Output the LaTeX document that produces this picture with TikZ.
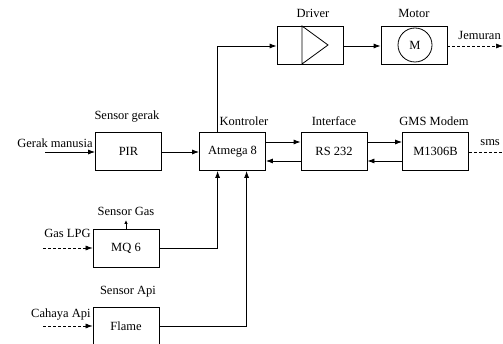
\documentclass[tikz,border=0pt]{standalone}
\usepackage{fontspec}
\setmainfont{Liberation Serif}
\usetikzlibrary{calc,arrows.meta}
\begin{document}
\begin{tikzpicture}[x=1pt,y=-1pt,
  font=\fontsize{12.5}{15}\selectfont,
  line width=0.8pt,
  box/.style={draw, minimum width=66pt, minimum height=38pt, inner sep=0pt},
  lbl/.style={inner sep=0pt},
  arr/.style={-{Latex[length=7pt,width=5pt]}},
  dsh/.style={densely dashed, line width=0.6pt}]
\useasboundingbox (0,0) rectangle (503,344);
% boxes
\node[box] (pir) at (128.5,151) {PIR};
\node[box] (atm) at (232.5,151.5) {Atmega 8};
\node[box] (rs) at (334,151.5) {RS 232};
\node[box] (gsm) at (435.5,151.5) {M1306B};
\node[box] (drv) at (310,45) {};
\node[box] (mot) at (414,45) {};
\node[box] (mq) at (126,248) {MQ 6};
\node[box] (fl) at (126,326) {Flame};
% inner symbols
\draw (302,26) -- (302,64) -- (328,45) -- cycle;
\node[draw, circle, minimum size=34pt, inner sep=0pt] (mc) at (415,45) {M};
% labels
\node[lbl] (lsg) at (127,117) {Sensor gerak};
\node[lbl] (lko) at (244,121) {Kontroler};
\node[lbl] (lif) at (334,121) {Interface};
\node[lbl] (lgm) at (434,121) {GMS Modem};
\node[lbl] (ldr) at (313,13) {Driver};
\node[lbl] (lmo) at (414,13) {Motor};
\node[lbl] (lsgs) at (126,211) {Sensor Gas};
\node[lbl] (lsa) at (128,292) {Sensor Api};
\node[lbl, anchor=east] (llpg) at (91,233) {Gas LPG};
\node[lbl, anchor=east] (lca) at (91,315) {Cahaya Api};
\node[lbl, anchor=east] (lgrk) at (93,143) {Gerak manusia};
\node[lbl, anchor=west] (ljm) at (458,35) {Jemuran};
\node[lbl, anchor=west] (lsms) at (480,143) {sms};
% free ends
\coordinate (gm) at (45,152);
\coordinate (jm) at (503,46);
\coordinate (sms) at (503,152);
\coordinate (lpg) at (43,248);
\coordinate (ca) at (43,326);
\coordinate (gasup) at (126,220);
\coordinate (atmtop) at ($(atm.north west)+(18.5,0)$);
\coordinate (atmb1) at ($(atm.south west)+(18.5,0)$);
\coordinate (atmb2) at ($(atm.south west)+(47.5,0)$);
% connectors
\draw[arr] (gm) -- (gm -| pir.west);
\draw[arr] (pir.east |- gm) -- (gm -| atm.west);
\draw[arr] (atmtop) |- ($(drv.west)+(0,1)$);
\draw[arr] ($(drv.east)+(0,1)$) -- ($(mot.west)+(0,1)$);
\draw[arr, dsh] ($(mot.east)+(0,1)$) -- (jm);
\draw[arr] ($(atm.east)+(0,-9.5)$) -- ($(rs.west)+(0,-9.5)$);
\draw[arr] ($(rs.west)+(0,9.5)$) -- ($(atm.east)+(0,9.5)$);
\draw[arr] ($(rs.east)+(0,-9.5)$) -- ($(gsm.west)+(0,-9.5)$);
\draw[arr] ($(gsm.west)+(0,9.5)$) -- ($(rs.east)+(0,9.5)$);
\draw[dsh] ($(gsm.east)+(0,0.5)$) -- (sms);
\draw[-{Latex[length=4pt,width=3.5pt]}] (mq.north) -- (gasup);
\draw[arr, dsh] (lpg) -- (mq.west);
\draw[arr] (mq.east) -| (atmb1);
\draw[arr, dsh] (ca) -- (fl.west);
\draw[arr] (fl.east) -| (atmb2);
\end{tikzpicture}
\end{document}
